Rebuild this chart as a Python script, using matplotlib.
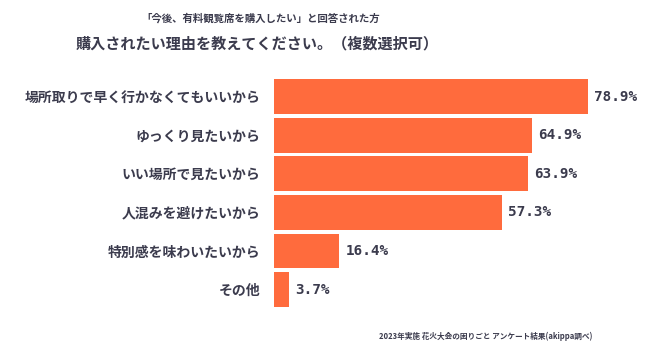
import matplotlib
matplotlib.use('Agg')
import matplotlib.pyplot as plt

plt.rcParams['font.family'] = ['Noto Sans CJK JP', 'DejaVu Sans']

# data
reasons = ['場所取りで早く行かなくてもいいから', 'ゆっくり見たいから', 'いい場所で見たいから',
           '人混みを避けたいから', '特別感を味わいたいから', 'その他']
shares = [78.9, 64.9, 63.9, 57.3, 16.4, 3.7]

bar_color = '#FF6B3D'
text_color = '#3b3b4d'

fig = plt.figure(figsize=(6.5, 3.42), dpi=100)
ax = fig.add_axes([274 / 650, 0.097, 1 - 274 / 650, 0.677])

ypos = list(range(len(reasons)))
ax.barh(ypos, shares, height=0.9, color=bar_color)
ax.set_xlim(0, 94.5)
ax.set_ylim(len(reasons) - 0.5, -0.5)

ax.set_yticks(ypos)
ax.set_yticklabels(reasons, fontsize=10, fontweight='bold', color=text_color)
ax.tick_params(axis='y', length=0, pad=10)
ax.set_xticks([])
for s in ax.spines.values():
    s.set_visible(False)

for y, v in zip(ypos, shares):
    ax.annotate(f'{v}%', (v, y), xytext=(4.5, 0), textcoords='offset points',
                va='center', ha='left', fontsize=10.3, fontweight='bold',
                family='DejaVu Sans Mono', color=text_color)

fig.text(261 / 650, 1 - 18 / 342, '「今後、有料観覧席を購入したい」と回答された方',
         ha='center', va='center', fontsize=7.5, fontweight='bold', color=text_color)
fig.text(257 / 650, 1 - 43 / 342, '購入されたい理由を教えてください。（複数選択可）',
         ha='center', va='center', fontsize=10.9, fontweight='bold', color=text_color)
fig.text(486 / 650, 1 - 336 / 342, '2023年実施 花火大会の困りごと アンケート結果(akippa調べ)',
         ha='center', va='center', fontsize=5.5, fontweight='bold', color=text_color)

fig.savefig('out.png', dpi=100)
